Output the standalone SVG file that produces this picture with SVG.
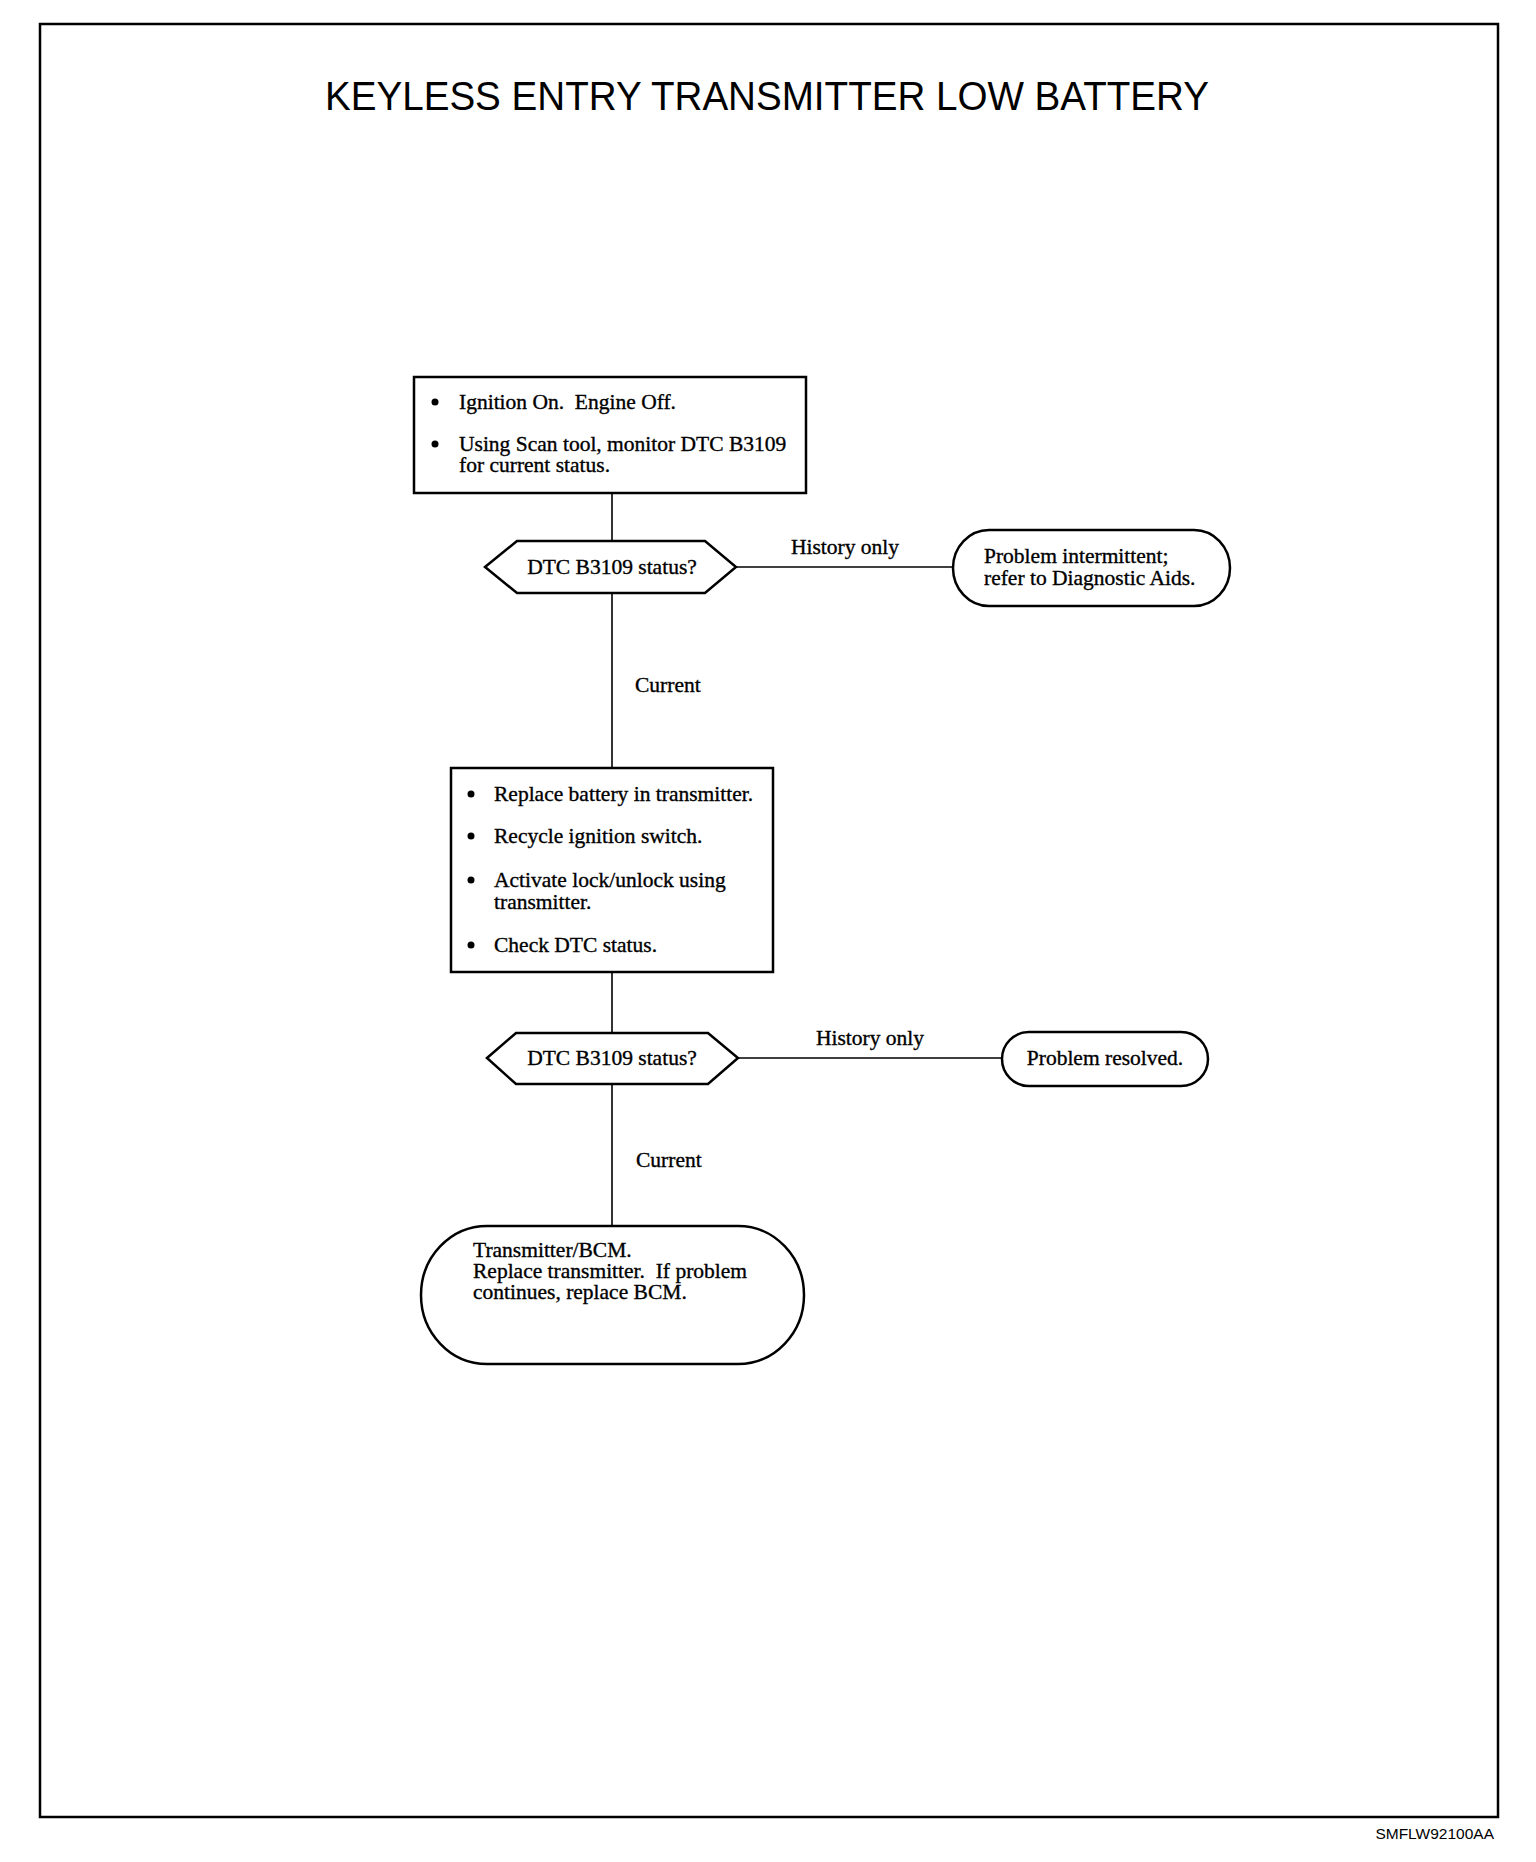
<svg xmlns="http://www.w3.org/2000/svg" width="1536" height="1862" viewBox="0 0 1536 1862">
<style>
.frame{fill:none;stroke:#000;stroke-width:2.5}
.box{fill:#fff;stroke:#000;stroke-width:2.5}
.conn{fill:none;stroke:#000;stroke-width:1.6}
.t{font-family:"Liberation Serif","Times New Roman",serif;font-size:21.5px;fill:#000;stroke:#000;stroke-width:0.35}
.c{text-anchor:middle}
.title{font-family:"Liberation Sans",Arial,sans-serif;font-size:40px;fill:#000;text-anchor:middle}
.foot{font-family:"Liberation Sans",Arial,sans-serif;font-size:15.5px;fill:#000;text-anchor:end}
.b{fill:#000}
</style>
<rect width="1536" height="1862" fill="#fff"/>
<rect class="frame" x="40" y="24" width="1458" height="1793"/>
<text class="title" x="767" y="110" textLength="884" lengthAdjust="spacingAndGlyphs">KEYLESS ENTRY TRANSMITTER LOW BATTERY</text>
<text class="foot" x="1494" y="1839">SMFLW92100AA</text>

<g id="connectors">
<line class="conn" x1="612" y1="493" x2="612" y2="541"/>
<line class="conn" x1="612" y1="593" x2="612" y2="768"/>
<line class="conn" x1="612" y1="972" x2="612" y2="1033"/>
<line class="conn" x1="612" y1="1084" x2="612" y2="1226"/>
<line class="conn" x1="736" y1="567" x2="952" y2="567"/>
<line class="conn" x1="738" y1="1058" x2="1002" y2="1058"/>
<text class="t c" x="845" y="554">History only</text>
<text class="t" x="635" y="692">Current</text>
<text class="t c" x="870" y="1045">History only</text>
<text class="t" x="636" y="1167">Current</text>
</g>

<g id="step1">
<rect class="box" x="414" y="377" width="392" height="116"/>
<circle class="b" cx="435" cy="402" r="3.5"/>
<text class="t" x="459" y="409" xml:space="preserve">Ignition On.  Engine Off.</text>
<circle class="b" cx="435" cy="444" r="3.5"/>
<text class="t" x="459" y="451">Using Scan tool, monitor DTC B3109</text>
<text class="t" x="459" y="472">for current status.</text>
</g>

<g id="decision1">
<polygon class="box" points="485,567 517,541 705,541 736,567 705,593 517,593"/>
<text class="t c" x="612" y="574">DTC B3109 status?</text>
</g>

<g id="end1">
<rect class="box" x="953" y="530" width="277" height="76" rx="36" ry="38"/>
<text class="t" x="984" y="563">Problem intermittent;</text>
<text class="t" x="984" y="585">refer to Diagnostic Aids.</text>
</g>

<g id="step2">
<rect class="box" x="451" y="768" width="322" height="204"/>
<circle class="b" cx="471" cy="794" r="3.5"/>
<text class="t" x="494" y="801">Replace battery in transmitter.</text>
<circle class="b" cx="471" cy="836" r="3.5"/>
<text class="t" x="494" y="843">Recycle ignition switch.</text>
<circle class="b" cx="471" cy="880" r="3.5"/>
<text class="t" x="494" y="887">Activate lock/unlock using</text>
<text class="t" x="494" y="909">transmitter.</text>
<circle class="b" cx="471" cy="945" r="3.5"/>
<text class="t" x="494" y="952">Check DTC status.</text>
</g>

<g id="decision2">
<polygon class="box" points="487,1058 516,1033 708,1033 738,1058 708,1084 516,1084"/>
<text class="t c" x="612" y="1065">DTC B3109 status?</text>
</g>

<g id="end2">
<rect class="box" x="1002" y="1032" width="206" height="54" rx="27" ry="27"/>
<text class="t c" x="1105" y="1065">Problem resolved.</text>
</g>

<g id="end3">
<rect class="box" x="421" y="1226" width="383" height="138" rx="66" ry="69"/>
<text class="t" x="473" y="1257">Transmitter/BCM.</text>
<text class="t" x="473" y="1278" xml:space="preserve">Replace transmitter.  If problem</text>
<text class="t" x="473" y="1299">continues, replace BCM.</text>
</g>
</svg>
